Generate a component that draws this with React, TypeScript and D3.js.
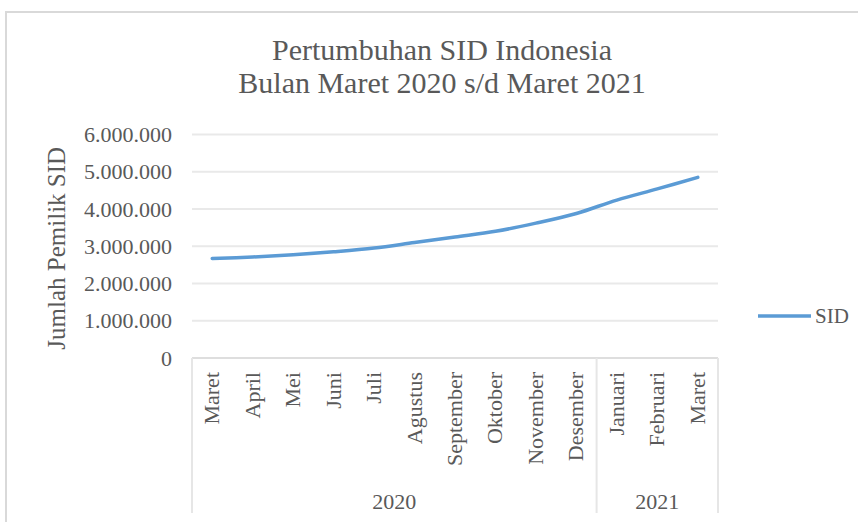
import React, { useRef, useEffect } from 'react';
import * as d3 from 'd3';

// chart data
const months = [
  'Maret', 'April', 'Mei', 'Juni', 'Juli', 'Agustus', 'September',
  'Oktober', 'November', 'Desember', 'Januari', 'Februari', 'Maret',
];
const yearLabels = ['2020', '2021'];
const yearSpans = [10, 3];
const sidValues = [
  2670000, 2710000, 2770000, 2850000, 2950000, 3100000, 3250000,
  3400000, 3620000, 3880000, 4240000, 4540000, 4850000,
];
const yTicks = [0, 1000000, 2000000, 3000000, 4000000, 5000000, 6000000];
const titleLines = ['Pertumbuhan SID Indonesia', 'Bulan Maret 2020 s/d Maret 2021'];
const yTitle = 'Jumlah Pemilik SID';
const seriesName = 'SID';

const App = () => {
  const svgRef = useRef(null);

  useEffect(() => {
    const width = 858;
    const height = 522;
    const font = '"Liberation Serif", "Times New Roman", serif';
    const textColor = '#595959';
    const gridColor = '#e9e9e9';
    const lineColor = '#5b9bd5';

    const plot = { left: 192, right: 718, top: 134.5, bottom: 358 };
    const axisBottom = 513;

    const svg = d3.select(svgRef.current);
    svg.selectAll('*').remove();
    svg.attr('width', width).attr('height', height);

    svg.append('rect').attr('width', width).attr('height', height).attr('fill', '#fff');

    // chart area border
    svg
      .append('rect')
      .attr('x', 6)
      .attr('y', 12)
      .attr('width', width + 10)
      .attr('height', height + 10)
      .attr('fill', 'none')
      .attr('stroke', '#d9d9d9')
      .attr('stroke-width', 2);

    // title
    svg
      .append('g')
      .selectAll('text')
      .data(titleLines)
      .join('text')
      .attr('x', 442)
      .attr('y', (d, i) => 60 + i * 33)
      .attr('text-anchor', 'middle')
      .attr('font-family', font)
      .attr('font-size', 30)
      .attr('fill', textColor)
      .text((d) => d);

    const x = d3
      .scaleBand()
      .domain(months.map((d, i) => String(i)))
      .range([plot.left, plot.right])
      .padding(0);

    const y = d3.scaleLinear().domain([0, 6000000]).range([plot.bottom, plot.top]);

    const idLocale = d3.formatLocale({
      decimal: ',',
      thousands: '.',
      grouping: [3],
      currency: ['Rp', ''],
    });
    const fmt = idLocale.format(',');

    // gridlines
    svg
      .append('g')
      .selectAll('line')
      .data(yTicks.filter((t) => t > 0))
      .join('line')
      .attr('x1', plot.left)
      .attr('x2', plot.right)
      .attr('y1', (d) => y(d))
      .attr('y2', (d) => y(d))
      .attr('stroke', gridColor)
      .attr('stroke-width', 2);

    // y tick labels
    svg
      .append('g')
      .selectAll('text')
      .data(yTicks)
      .join('text')
      .attr('x', 172)
      .attr('y', (d) => y(d))
      .attr('dy', '0.35em')
      .attr('text-anchor', 'end')
      .attr('font-family', font)
      .attr('font-size', 22)
      .attr('fill', textColor)
      .text((d) => fmt(d));

    // y axis title
    svg
      .append('text')
      .attr('transform', `translate(65,${(plot.top + plot.bottom) / 2 + 2}) rotate(-90)`)
      .attr('text-anchor', 'middle')
      .attr('font-family', font)
      .attr('font-size', 25)
      .attr('fill', textColor)
      .text(yTitle);

    // category axis frame (multi-level)
    const axisG = svg.append('g');
    axisG
      .append('line')
      .attr('x1', plot.left)
      .attr('x2', plot.right)
      .attr('y1', plot.bottom)
      .attr('y2', plot.bottom)
      .attr('stroke', '#dedede')
      .attr('stroke-width', 2);

    const bounds = [0];
    yearSpans.forEach((s, i) => bounds.push(bounds[i] + s));
    const boundX = (k) => (k >= months.length ? plot.right : x(String(k)));

    axisG
      .selectAll('line.sep')
      .data(bounds)
      .join('line')
      .attr('class', 'sep')
      .attr('x1', (d) => boundX(d))
      .attr('x2', (d) => boundX(d))
      .attr('y1', plot.bottom)
      .attr('y2', axisBottom)
      .attr('stroke', '#e6e6e6')
      .attr('stroke-width', 2);

    // month labels, rotated
    axisG
      .selectAll('text.month')
      .data(months)
      .join('text')
      .attr('class', 'month')
      .attr(
        'transform',
        (d, i) => `translate(${x(String(i)) + x.bandwidth() / 2 + 7},372) rotate(-90)`
      )
      .attr('text-anchor', 'end')
      .attr('font-family', font)
      .attr('font-size', 22)
      .attr('fill', textColor)
      .text((d) => d);

    // year labels
    axisG
      .selectAll('text.year')
      .data(yearLabels)
      .join('text')
      .attr('class', 'year')
      .attr('x', (d, i) => (boundX(bounds[i]) + boundX(bounds[i + 1])) / 2)
      .attr('y', 509)
      .attr('text-anchor', 'middle')
      .attr('font-family', font)
      .attr('font-size', 22)
      .attr('fill', textColor)
      .text((d) => d);

    // series line
    const line = d3
      .line()
      .x((d, i) => x(String(i)) + x.bandwidth() / 2)
      .y((d) => y(d))
      .curve(d3.curveCatmullRom);

    svg
      .append('path')
      .datum(sidValues)
      .attr('fill', 'none')
      .attr('stroke', lineColor)
      .attr('stroke-width', 3.5)
      .attr('stroke-linecap', 'round')
      .attr('d', line);

    // legend
    svg
      .append('line')
      .attr('x1', 758)
      .attr('x2', 811)
      .attr('y1', 316)
      .attr('y2', 316)
      .attr('stroke', lineColor)
      .attr('stroke-width', 3.5);

    svg
      .append('text')
      .attr('x', 815)
      .attr('y', 316)
      .attr('dy', '0.35em')
      .attr('font-family', font)
      .attr('font-size', 21)
      .attr('fill', textColor)
      .text(seriesName);
  }, []);

  return <svg ref={svgRef} style={{ position: 'absolute', left: 0, top: 0 }}></svg>;
};

export default App;
